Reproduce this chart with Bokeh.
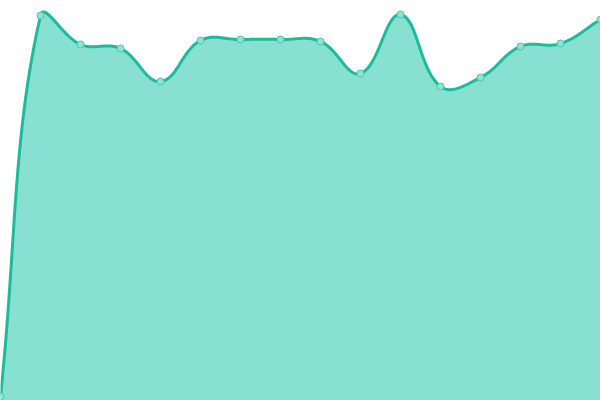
import numpy as np
from bokeh.plotting import figure
from bokeh.embed import file_html
from bokeh.resources import INLINE

# data
categories = [f"P{i+1}" for i in range(16)]
values = [4, 385, 356, 352, 319, 360, 361, 361, 359, 327, 386, 314, 323, 354, 357, 381]

W, H = 600, 400
n = len(values)
x_idx = np.arange(n, dtype=float)
vals = np.array(values, dtype=float)
Y_MAX = 400.0

# pixel-space coordinates for spline construction (Chart.js-like tension)
sx = W / (n - 1)
sy = H / Y_MAX
px = x_idx * sx
py = vals * sy
tension = 0.4
cp_prev = np.zeros((n, 2))
cp_next = np.zeros((n, 2))
for i in range(n):
    cur = np.array([px[i], py[i]])
    prv = np.array([px[i-1], py[i-1]]) if i > 0 else cur
    nxt = np.array([px[i+1], py[i+1]]) if i < n - 1 else cur
    d01 = np.hypot(*(cur - prv))
    d12 = np.hypot(*(nxt - cur))
    tot = d01 + d12
    s01 = d01 / tot if tot else 0
    s12 = d12 / tot if tot else 0
    fa = tension * s01
    fb = tension * s12
    cp_prev[i] = cur - fa * (nxt - prv)
    cp_next[i] = cur + fb * (nxt - prv)
cp_prev[:, 0] = np.clip(cp_prev[:, 0], 0, W); cp_prev[:, 1] = np.clip(cp_prev[:, 1], 0, H)
cp_next[:, 0] = np.clip(cp_next[:, 0], 0, W); cp_next[:, 1] = np.clip(cp_next[:, 1], 0, H)

cx, cy = [], []
t = np.linspace(0, 1, 40)
for i in range(n - 1):
    p0 = np.array([px[i], py[i]]); p3 = np.array([px[i+1], py[i+1]])
    p1 = cp_next[i]; p2 = cp_prev[i+1]
    b = ((1-t)**3)[:, None]*p0 + (3*(1-t)**2*t)[:, None]*p1 + (3*(1-t)*t**2)[:, None]*p2 + (t**3)[:, None]*p3
    if i > 0:
        b = b[1:]
    cx.extend(b[:, 0] / sx); cy.extend(b[:, 1] / sy)
cx = np.array(cx); cy = np.array(cy)

p = figure(width=W, height=H, x_range=(0, n - 1), y_range=(0, Y_MAX),
           output_backend="svg", toolbar_location=None, min_border=0,
           outline_line_color=None)
p.axis.visible = False
p.grid.visible = False
p.background_fill_color = "white"
p.border_fill_color = "white"

p.varea(x=cx, y1=np.zeros_like(cy), y2=cy, fill_color="#88e0d0", fill_alpha=1.0)
p.line(x=cx, y=cy, line_color="#1abc9c", line_width=3)
p.scatter(x=x_idx, y=vals, size=7, fill_color="#8fe3d2", line_color="#48c9ac", line_width=1)

html = file_html(p, INLINE)
html = html.replace("<body>", '<body style="margin:0;overflow:hidden">', 1)
open("out.html", "w").write(html)
